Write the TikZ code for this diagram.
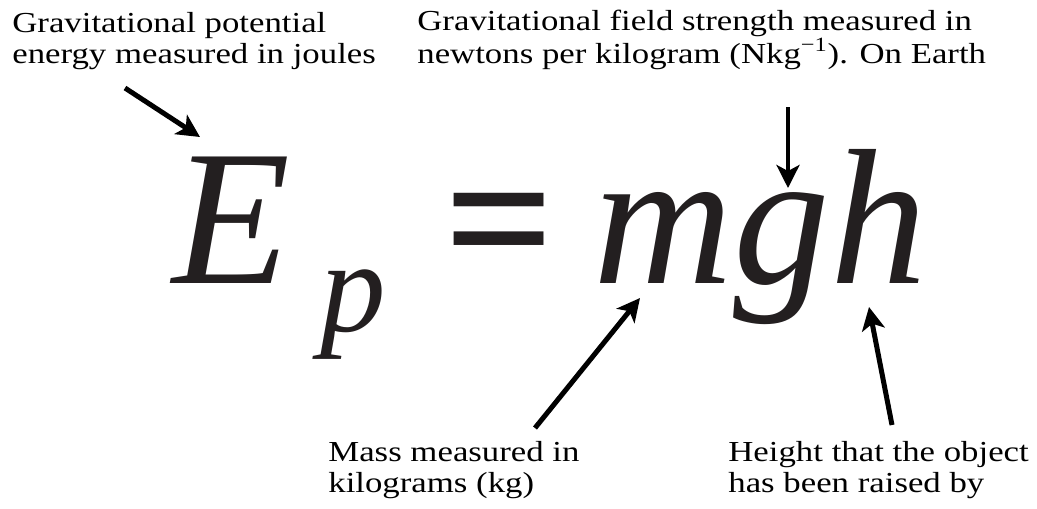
\documentclass[tikz,border=0pt]{standalone}
\usepackage{fontspec}
\setmainfont{Liberation Serif}
\newfontfamily\notefont[FakeStretch=1.2]{Liberation Serif}
\usetikzlibrary{arrows.meta,positioning}
\definecolor{inkdark}{RGB}{35,31,32}

\begin{document}
\begin{tikzpicture}[
    x=0.02cm, y=-0.02cm,
    note/.style={anchor=base west, inner sep=0pt, align=left,
                 font=\notefont\fontsize{16.5}{17.4}\selectfont},
    bigsym/.style={anchor=base west, inner sep=0pt, text=inkdark,
                   font=\fontsize{110}{110}\selectfont\itshape},
    subsym/.style={bigsym, font=\fontsize{74.6}{74.6}\selectfont\itshape},
    eqsym/.style={bigsym, font=\fontsize{110}{110}\selectfont\bfseries},
    pointer/.style={-{Stealth[length=0.46cm, width=0.46cm, inset=0.12cm]}, line width=0.1cm},
    thinpointer/.style={pointer, line width=0.08cm}
]
\useasboundingbox (0,0) rectangle (1037,508);

% Formula
\node[bigsym] (symE)  at (172,283) {E};
\node[subsym] (symP)  at (320,331) {p};
\node[eqsym]  (symEq) at (444,283) {=};
\node[bigsym] (symM)  at (593,283) {m};
\node[bigsym] (symG)  at (symM.base east) {g};
\node[bigsym] (symH)  at (symG.base east) {h};

% Labels (placed on the baseline of their last line)
\node[note] (lblEp) at (12,63)   {Gravitational potential\\energy measured in joules};
\node[note] (lblG)  at (417,63)  {Gravitational field strength measured in\\newtons per kilogram (Nkg\textsuperscript{−1}). On Earth};
\node[note] (lblM)  at (328,492) {Mass measured in\\kilograms (kg)};
\node[note] (lblH)  at (728,492) {Height that the object\\has been raised by};

% Arrow ends
\coordinate (tailE) at (125,88);  \coordinate (tipE) at (200,137);
\coordinate (tailG) at (788,107); \coordinate (tipG) at (788,188);
\coordinate (tailM) at (535,428); \coordinate (tipM) at (640,298);
\coordinate (tailH) at (892,425); \coordinate (tipH) at (869,307);

% Arrows
\draw[pointer]     (tailE) -- (tipE);
\draw[thinpointer] (tailG) -- (tipG);
\draw[pointer]     (tailM) -- (tipM);
\draw[pointer]     (tailH) -- (tipH);

\end{tikzpicture}
\end{document}
